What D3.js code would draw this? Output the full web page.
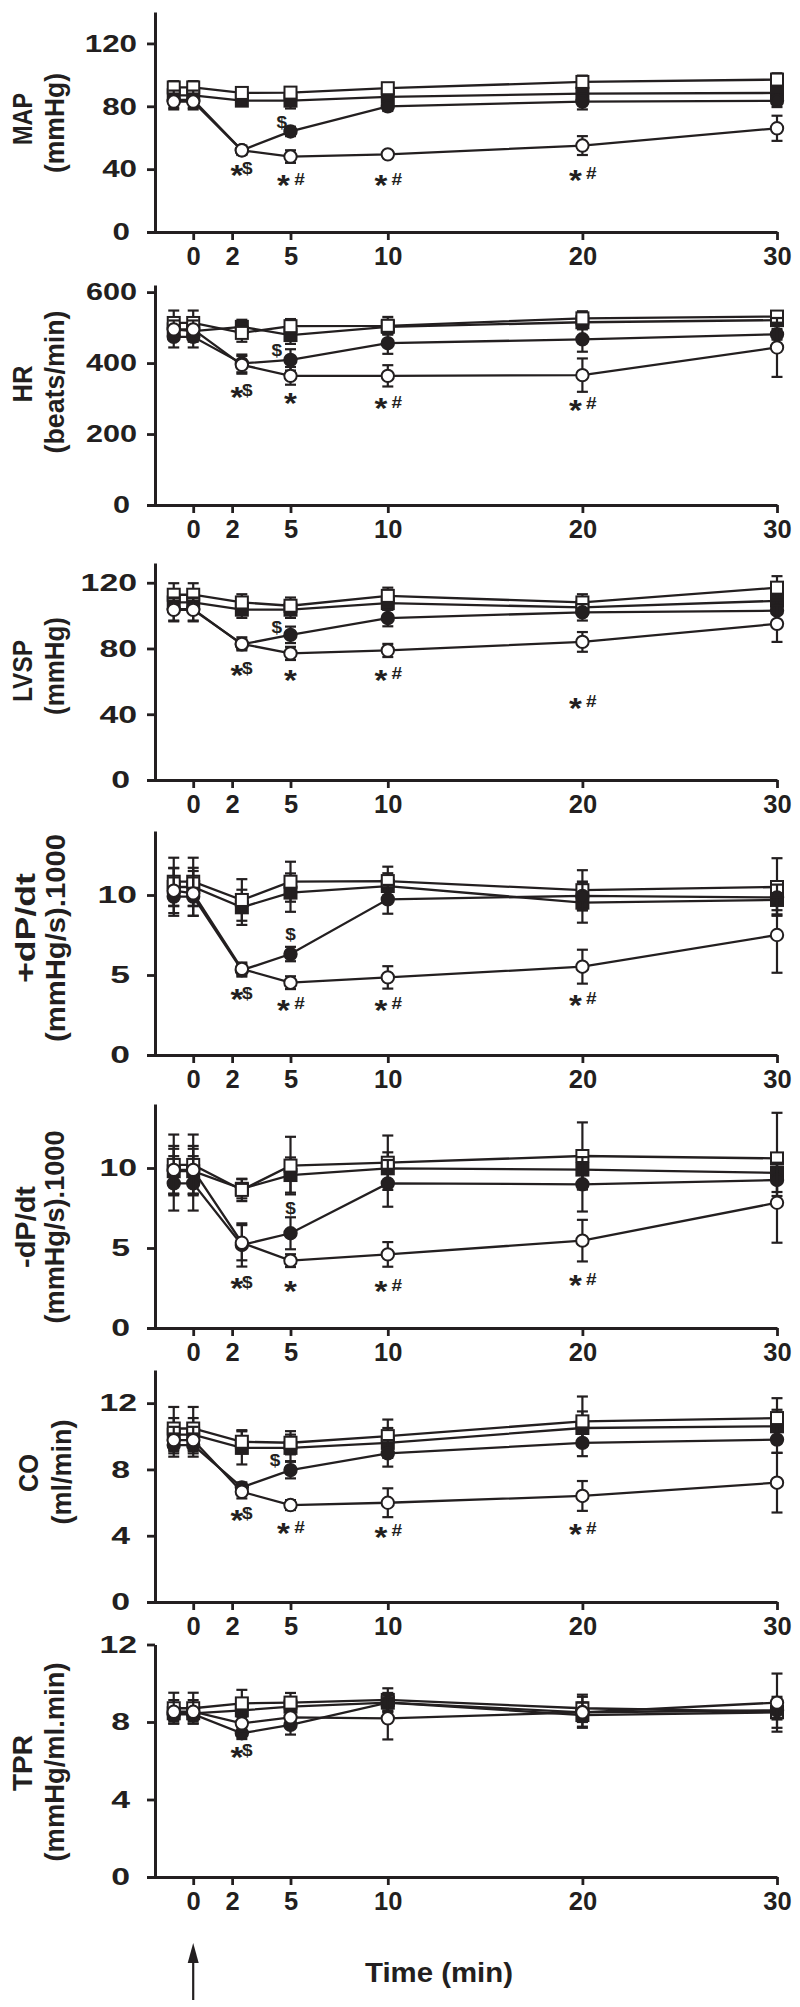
<!DOCTYPE html>
<html><head><meta charset="utf-8">
<script src="https://cdn.jsdelivr.net/npm/d3@7"></script>
<style>body{margin:0;background:#fff}svg{display:block}</style>
</head><body>
<svg id="c" width="800" height="2007"></svg>
<script>
// ---------- data ----------
const times = [-1, 0, 2.5, 5, 10, 20, 30];
const xTickValues = [0, 2, 5, 10, 20, 30];
const seriesNames = ["Open square", "Filled square", "Filled circle", "Open circle"];
const panelNames = ["MAP", "HR", "LVSP", "+dP/dt", "-dP/dt", "CO", "TPR"];
const panelUnits = ["(mmHg)", "(beats/min)", "(mmHg)", "(mmHg/s).1000", "(mmHg/s).1000", "(ml/min)", "(mmHg/ml.min)"];
const yMaxValues = [140, 620, 132, 14, 14, 14, 12];
const yTickValues = [[0,40,80,120],[0,200,400,600],[0,40,80,120],[0,5,10],[0,5,10],[0,4,8,12],[0,4,8,12]];

// rows: open square, filled square, filled circle, open circle
const mapMean = [
  [92, 92, 88.5, 88.7, 91.5, 95.5, 97],
  [87, 87, 83.6, 83.6, 86, 88, 88.5],
  [84, 84, 52, 64, 80, 83, 83.5],
  [83, 83, 52, 48, 49.4, 55, 66]];
const mapErr = [
  [4, 4, 3, 3, 3, 4, 4],
  [5, 5, 3, 5, 3, 4, 4],
  [6, 6, 3, 3, 3, 5, 4],
  [4, 4, 2, 4, 2, 6, 8]];

const hrMean = [
  [513, 513, 485, 504, 505, 526, 531],
  [495, 490, 502, 479, 502, 515, 521],
  [474, 474, 399, 409, 456, 467, 481],
  [495, 495, 395, 364, 364, 366, 444]];
const hrErr = [
  [35, 35, 25, 20, 25, 20, 15],
  [30, 30, 20, 25, 20, 20, 15],
  [30, 30, 25, 30, 30, 35, 15],
  [25, 25, 25, 25, 30, 47, 83]];

const lvspMean = [
  [112.7, 112.7, 108, 106, 112, 108, 117],
  [108, 108, 103.6, 103.6, 107.6, 105, 109],
  [104, 104, 82.5, 88.3, 98.5, 102, 103],
  [103.5, 103.5, 82.8, 77, 78.8, 84, 95]];
const lvspErr = [
  [7, 7, 5, 5, 5, 5, 7],
  [6, 6, 5, 5, 4, 5, 6],
  [7, 7, 3, 5, 5, 5, 6],
  [7, 7, 4, 4, 4, 6, 11]];

const dpPlusMean = [
  [10.83, 10.83, 9.69, 10.83, 10.87, 10.3, 10.5],
  [10.5, 10.5, 9.23, 10.15, 10.56, 9.52, 9.69],
  [9.9, 9.9, 5.3, 6.31, 9.73, 9.94, 9.85],
  [10.27, 10.1, 5.38, 4.52, 4.85, 5.52, 7.5]];
const dpPlusErr = [
  [1.5, 1.5, 1.3, 1.25, 0.9, 1.25, 1.8],
  [1.2, 1.2, 1.1, 1.2, 0.8, 1.25, 0.9],
  [1.2, 1.2, 0.4, 0.45, 0.9, 0.9, 0.8],
  [1.4, 1.4, 0.4, 0.4, 0.7, 1.06, 2.36]];

const dpMinusMean = [
  [10.19, 10.19, 8.63, 10.15, 10.33, 10.75, 10.6],
  [9.8, 9.8, 8.7, 9.56, 9.98, 9.9, 9.7],
  [9.04, 9.04, 5.19, 5.92, 9.04, 8.98, 9.25],
  [9.88, 9.88, 5.33, 4.21, 4.6, 5.46, 7.83]];
const dpMinusErr = [
  [1.9, 1.9, 0.7, 1.8, 1.7, 2.1, 2.85],
  [1.4, 1.4, 0.6, 1.1, 1.0, 1.2, 1.2],
  [1.7, 1.7, 1.35, 1.0, 1.46, 1.7, 1.0],
  [1.5, 1.5, 1.1, 0.4, 0.77, 1.3, 2.5]];

const coMean = [
  [10.47, 10.47, 9.67, 9.61, 10.01, 10.9, 11.1],
  [10.1, 10.1, 9.3, 9.3, 9.6, 10.5, 10.6],
  [9.47, 9.47, 6.92, 7.96, 8.97, 9.6, 9.8],
  [9.77, 9.77, 6.65, 5.85, 5.99, 6.4, 7.2]];
const coErr = [
  [1.3, 1.3, 0.7, 0.7, 1.0, 1.5, 1.2],
  [1.0, 1.0, 1.0, 0.8, 0.9, 1.0, 1.0],
  [0.7, 0.7, 0.3, 0.5, 0.8, 0.8, 0.8],
  [0.8, 0.8, 0.4, 0.3, 0.87, 0.9, 1.8]];

const tprMean = [
  [8.71, 8.71, 8.96, 9.0, 9.14, 8.71, 8.53],
  [8.45, 8.45, 8.6, 8.79, 9.0, 8.36, 8.5],
  [8.4, 8.4, 7.42, 7.85, 9.0, 8.5, 8.6],
  [8.53, 8.53, 7.93, 8.24, 8.19, 8.5, 9.0]];
const tprErr = [
  [0.8, 0.8, 0.7, 0.5, 0.6, 0.7, 0.4],
  [0.4, 0.4, 0.5, 0.5, 0.5, 0.6, 0.8],
  [0.3, 0.3, 0.3, 0.5, 0.4, 0.5, 0.4],
  [0.6, 0.6, 0.4, 0.4, 1.09, 0.8, 1.5]];

// significance marks: [time, value, text]
const mapNotes = [[2.5, 40.7, "*$"], [5, 34, "*#"], [10, 34, "*#"], [20, 37.5, "*#"], [4.55, 70, "$"]];
const hrNotes = [[2.5, 324, "*$"], [5, 305, "*"], [10, 291, "*#"], [20, 287, "*#"], [4.3, 437, "$"]];
const lvspNotes = [[2.5, 68, "*$"], [5, 65, "*"], [10, 65, "*#"], [20, 48, "*#"], [4.3, 93.4, "$"]];
const dpPlusNotes = [[2.5, 3.9, "*$"], [5, 3.23, "*#"], [10, 3.23, "*#"], [20, 3.54, "*#"], [5, 7.6, "$"]];
const dpMinusNotes = [[2.5, 2.9, "*$"], [5, 2.69, "*"], [10, 2.69, "*#"], [20, 3.1, "*#"], [5, 7.48, "$"]];
const coNotes = [[2.5, 5.35, "*$"], [5, 4.54, "*#"], [10, 4.34, "*#"], [20, 4.5, "*#"], [4.2, 8.56, "$"]];
const tprNotes = [[2.5, 6.55, "*$"]];

const xAxisTitle = "Time (min)";

// ---------- layout ----------
const means = [mapMean, hrMean, lvspMean, dpPlusMean, dpMinusMean, coMean, tprMean];
const errs = [mapErr, hrErr, lvspErr, dpPlusErr, dpMinusErr, coErr, tprErr];
const notes = [mapNotes, hrNotes, lvspNotes, dpPlusNotes, dpMinusNotes, coNotes, tprNotes];
const panelBottom = [232, 505, 780, 1055, 1328, 1602, 1877];
const panelHeight = [220, 220, 217, 224, 224, 232, 232.5];
const yTickStretch = [1.28, 1.25, 1.38, 1.45, 1.38, 1.38, 1.38];
const title1X = [22, 22, 22, 25, 25, 28, 22];
const title1Y = [119, 384, 671, 928, 1227, 1473, 1763];
const title1Size = [28, 28, 28, 27, 27, 28, 28];
const title1Len = [52, 37, 62, 110, 82, 38, 56];
const title2X = [57, 57, 57, 57, 57, 64, 57];
const title2Y = [123, 382, 666, 938, 1227, 1472, 1762];
const title2Size = [27, 27, 27, 28, 27, 27, 27];
const title2Len = [100, 143, 98, 208, 193, 105, 199];

const ink = "#231f20";
const FONT = "'Liberation Sans', Arial, Helvetica, sans-serif";
const svg = d3.select("#c").style("font-family", FONT);
const x = d3.scaleLinear().domain([-2.4, 30]).range([146.5, 777]);
const yAxisX = 155;
const seriesStyle = [
  {shape: "square", fill: "#fff"},
  {shape: "square", fill: ink},
  {shape: "circle", fill: ink},
  {shape: "circle", fill: "#fff"}];
const drawOrder = [1, 0, 2, 3];

function stext(g, str, cx, by, size, weight, sx, anchor) {
  return g.append("text")
    .attr("transform", `translate(${cx},${by}) scale(${sx},1)`)
    .attr("text-anchor", anchor || "middle")
    .attr("font-size", size).attr("font-weight", weight)
    .attr("fill", ink).text(str);
}

panelNames.forEach((name, i) => {
  const bottom = panelBottom[i];
  const y = d3.scaleLinear().domain([0, yMaxValues[i]]).range([bottom, bottom - panelHeight[i]]);
  const g = svg.append("g");
  const sx = yTickStretch[i];

  // axes
  const ya = g.append("g").attr("transform", `translate(${yAxisX},0)`)
    .call(d3.axisLeft(y).tickValues(yTickValues[i]).tickSize(8).tickSizeOuter(0)
      .tickPadding(18 / sx - 8).tickFormat(d3.format("d")));
  const xa = g.append("g").attr("transform", `translate(0,${bottom})`)
    .call(d3.axisBottom(x).tickValues(xTickValues).tickSize(8).tickSizeOuter(0)
      .tickPadding(7).tickFormat(d3.format("d")));
  [ya, xa].forEach(a => {
    a.select(".domain").attr("stroke", ink).attr("stroke-width", 3);
    a.selectAll(".tick line").attr("stroke", ink).attr("stroke-width", 2.8);
    a.selectAll(".tick text").attr("fill", ink).attr("font-weight", "bold").attr("font-family", FONT);
  });
  ya.selectAll(".tick text").attr("font-size", 24.5)
    .attr("transform", `scale(${sx},1)`)
    .attr("dx", d => String(d).length === 1 ? -7 / sx : 0);
  xa.selectAll(".tick text").attr("font-size", 25.5);

  // y axis title (two lines)
  g.append("text")
    .attr("transform", `translate(${title1X[i]},${title1Y[i]}) rotate(-90)`)
    .attr("text-anchor", "middle").attr("dy", "0.36em")
    .attr("textLength", title1Len[i]).attr("lengthAdjust", "spacingAndGlyphs")
    .attr("font-size", title1Size[i]).attr("font-weight", "bold").attr("fill", ink).text(name);
  g.append("text")
    .attr("transform", `translate(${title2X[i]},${title2Y[i]}) rotate(-90)`)
    .attr("text-anchor", "middle").attr("dy", "0.27em")
    .attr("textLength", title2Len[i]).attr("lengthAdjust", "spacingAndGlyphs")
    .attr("font-size", title2Size[i]).attr("font-weight", "bold").attr("fill", ink).text(panelUnits[i]);

  // series
  const line = d3.line().x((d, k) => x(times[k])).y(d => y(d));
  drawOrder.forEach(s => {
    const m = means[i][s], e = errs[i][s], st = seriesStyle[s];
    const sg = g.append("g").attr("class", "series-" + s);
    const bars = sg.selectAll(".eb").data(m).enter().append("g").attr("class", "eb");
    bars.append("line")
      .attr("x1", (d, k) => x(times[k])).attr("x2", (d, k) => x(times[k]))
      .attr("y1", (d, k) => y(d + e[k])).attr("y2", (d, k) => y(d - e[k]))
      .attr("stroke", ink).attr("stroke-width", 2.2);
    [1, -1].forEach(sign => {
      bars.append("line")
        .attr("x1", (d, k) => x(times[k]) - 5.5).attr("x2", (d, k) => x(times[k]) + 5.5)
        .attr("y1", (d, k) => y(d + sign * e[k])).attr("y2", (d, k) => y(d + sign * e[k]))
        .attr("stroke", ink).attr("stroke-width", 2.2);
    });
    sg.append("path").datum(m).attr("d", line).attr("fill", "none")
      .attr("stroke", ink).attr("stroke-width", 2.3);
    if (st.shape === "circle") {
      sg.selectAll(".mk").data(m).enter().append("circle").attr("class", "mk")
        .attr("cx", (d, k) => x(times[k])).attr("cy", d => y(d)).attr("r", 6.2)
        .attr("fill", st.fill).attr("stroke", ink).attr("stroke-width", 2);
    } else {
      sg.selectAll(".mk").data(m).enter().append("rect").attr("class", "mk")
        .attr("x", (d, k) => x(times[k]) - 6).attr("y", d => y(d) - 6)
        .attr("width", 12).attr("height", 12)
        .attr("fill", st.fill).attr("stroke", ink).attr("stroke-width", 2);
    }
  });

  // significance marks
  notes[i].forEach(([t, v, txt]) => {
    const cx = x(t), cyy = y(v);
    const star = txt[0] === "*";
    const suffix = star ? txt.slice(1) : txt;
    if (star) {
      const ax = suffix ? (suffix === "$" ? cx - 5 : cx - 7) : cx;
      stext(g, "*", ax, cyy + 16.5, 30, "bold", 1.1);
    }
    if (suffix) {
      const fx = star ? (suffix === "$" ? cx + 5.5 : cx + 9) : cx;
      const fs = suffix === "$" ? 17 : 17;
      stext(g, suffix, fx, cyy + fs * 0.36, fs, "bold", 1.12);
    }
  });
});

// arrow marking time 0
const ax0 = x(0);
svg.append("line").attr("x1", ax0).attr("x2", ax0).attr("y1", 2000).attr("y2", 1958)
  .attr("stroke", ink).attr("stroke-width", 2.2);
svg.append("path").attr("d", `M${ax0},1943 L${ax0 - 5.5},1963 L${ax0 + 5.5},1963 Z`).attr("fill", ink);

// x axis title
stext(svg, xAxisTitle, 439, 1982, 28, "bold", 1.05);
</script>
</body></html>
